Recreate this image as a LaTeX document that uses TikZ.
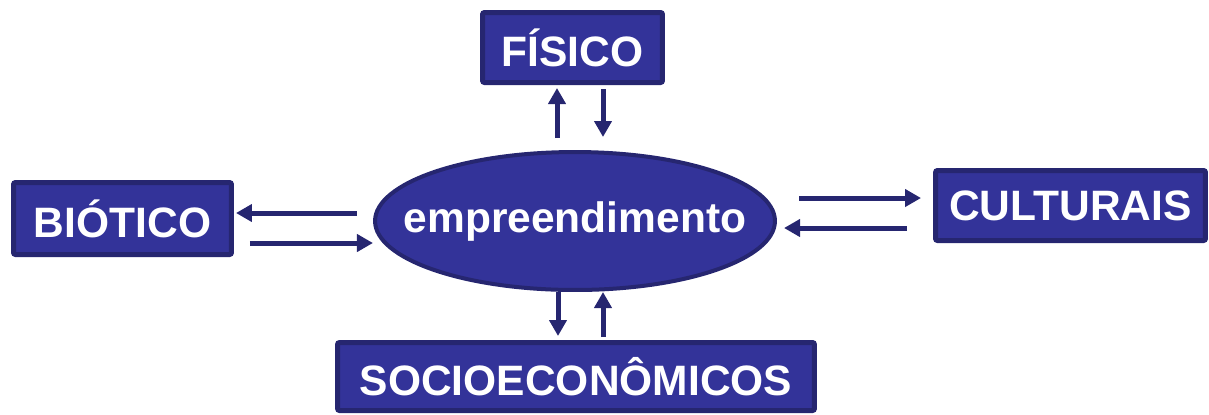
\documentclass[tikz,border=0pt]{standalone}
\usepackage{fontspec}
\setmainfont{Liberation Sans}
\usetikzlibrary{arrows.meta,calc,shapes.geometric}
\definecolor{caixa}{RGB}{51,51,153}
\definecolor{borda}{RGB}{38,38,112}
\begin{document}
\begin{tikzpicture}[x=0.02cm,y=-0.02cm,
	caixa/.style={draw=borda, fill=caixa, line width=0.1cm, rounded corners=0.04cm, text=white, font=\fontsize{24.2}{29}\selectfont\bfseries, inner sep=0pt},
	seta/.style={draw=borda, line width=0.1cm, -{Triangle[length=0.32cm,width=0.34cm]}}]
		\useasboundingbox (0,0) rectangle (1209,414);
		\node[caixa, minimum width=3.6cm, minimum height=1.4cm](fisico) at (572.5,47.5){FÍSICO};
		\node[caixa, minimum width=4.36cm, minimum height=1.44cm](biotico) at (122.5,218.5){BIÓTICO};
		\node[caixa, minimum width=5.4cm, minimum height=1.4cm](culturais) at (1070.5,205.5){CULTURAIS};
		\node[caixa, minimum width=9.54cm, minimum height=1.36cm](socio) at (576,376.5){SOCIOECONÔMICOS};
		\node[caixa, ellipse, line width=0.08cm, inner xsep=-0.62cm, minimum width=8cm, minimum height=2.76cm](empre) at (575,221){empreendimento};
		\draw[seta]($(fisico.south)+(-15.5,53)$)--($(fisico.south)+(-15.5,3)$);
		\draw[seta]($(fisico.south)+(30.5,4)$)--($(fisico.south)+(30.5,52)$);
		\draw[seta]($(biotico.east)+(123,-5.5)$)--($(biotico.east)+(2,-5.5)$);
		\draw[seta]($(biotico.east)+(16,24.5)$)--($(biotico.east)+(139,24.5)$);
		\draw[seta]($(culturais.west)+(-134,-7.5)$)--($(culturais.west)+(-12,-7.5)$);
		\draw[seta]($(culturais.west)+(-26,22.5)$)--($(culturais.west)+(-149,22.5)$);
		\draw[seta]($(socio.north)+(-18,-48)$)--($(socio.north)+(-18,-4)$);
		\draw[seta]($(socio.north)+(27,-3)$)--($(socio.north)+(27,-48)$);
		\end{tikzpicture}
\end{document}
